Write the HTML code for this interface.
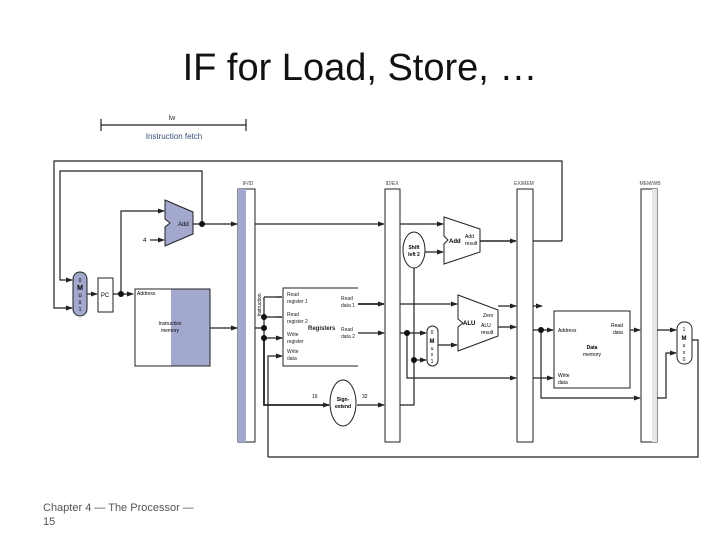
<!DOCTYPE html>
<html><head><meta charset="utf-8"><style>
html,body{margin:0;padding:0;background:#fff}
svg{display:block}
text{font-family:"Liberation Sans",sans-serif}
</style></head><body>
<svg width="720" height="540" viewBox="0 0 720 540" xmlns="http://www.w3.org/2000/svg">
<defs><marker id="a" markerUnits="userSpaceOnUse" markerWidth="7" markerHeight="6" refX="6" refY="3" orient="auto"><path d="M0,0.5 L7,3 L0,5.5z" fill="#222"/></marker></defs>
<text x="360" y="80" font-size="38" text-anchor="middle" fill="#111">IF for Load, Store, …</text>
<text x="43" y="511" font-size="11" fill="#555">Chapter 4 — The Processor —</text>
<text x="43" y="525" font-size="11" fill="#555">15</text>
<g stroke="#222" fill="none" stroke-width="1.2">
<path d="M101,119 V131 M246,119 V131 M101,125 H246"/>
</g>
<text x="172" y="120" font-size="7" fill="#333" text-anchor="middle">lw</text>
<text x="174" y="139" font-size="8" fill="#3a4a7a" text-anchor="middle">Instruction fetch</text>
<g stroke="#222" fill="none" stroke-width="1.2">
<path d="M562,241 V161 H54 V308 H72" marker-end="url(#a)"/>
<path d="M202,224 V171 H60 V280 H72" marker-end="url(#a)"/>
<path d="M533,241 H562"/>
<path d="M87,294 H97" marker-end="url(#a)"/>
<path d="M113,294 H133" marker-end="url(#a)"/>
<path d="M121,294 V211 H164" marker-end="url(#a)"/>
<path d="M150,240 H164" marker-end="url(#a)"/>
<path d="M193,224 H237" marker-end="url(#a)"/>
<path d="M210,328 H237" marker-end="url(#a)"/>
<path d="M255,224 H384" marker-end="url(#a)"/>
<path d="M255,328 H264 M264,297 V338 M264,297 H282 M264,317 H282 M264,338 H282" />
<path d="M276,297 H282 M276,317 H282 M276,338 H282" marker-end="url(#a)"/>
<path d="M268,457 V356 H282" marker-end="url(#a)"/>
<path d="M264,338 V405 H329" stroke-width="1.8" marker-end="url(#a)"/>
<path d="M357,405 H384" marker-end="url(#a)"/>
<path d="M358,304 H384" stroke-width="1.8" marker-end="url(#a)"/>
<path d="M358,333 H384" marker-end="url(#a)"/>
<path d="M268,457 H698 V340 H692"/>
<path d="M400,224 H443" marker-end="url(#a)"/>
<path d="M425,252 H443" marker-end="url(#a)"/>
<path d="M480,241 H516" stroke-width="1.6" marker-end="url(#a)"/>
<path d="M400,304 H457" marker-end="url(#a)"/>
<path d="M400,333 H426" marker-end="url(#a)"/>
<path d="M407,333 V378 H516" marker-end="url(#a)"/>
<path d="M414,268 V405 H400"/>
<path d="M414,360 H426" marker-end="url(#a)"/>
<path d="M438,345 H457" marker-end="url(#a)"/>
<path d="M498,306 H516" marker-end="url(#a)"/>
<path d="M498,327 H516" marker-end="url(#a)"/>
<path d="M533,306 H542" marker-end="url(#a)"/>
<path d="M533,330 H553" marker-end="url(#a)"/>
<path d="M541,330 V398 H640" marker-end="url(#a)"/>
<path d="M533,378 H553" marker-end="url(#a)"/>
<path d="M630,330 H640" marker-end="url(#a)"/>
<path d="M657,330 H676" marker-end="url(#a)"/>
<path d="M657,398 H666 V353 H676" marker-end="url(#a)"/>
</g>
<g fill="#111">
<circle cx="121" cy="294" r="3"/><circle cx="202" cy="224" r="3"/>
<circle cx="264" cy="317" r="3"/><circle cx="264" cy="328" r="3"/><circle cx="264" cy="338" r="3"/>
<circle cx="407" cy="333" r="3"/><circle cx="414" cy="360" r="3"/><circle cx="541" cy="330" r="3"/>
</g>
<rect x="73" y="272" width="14" height="44" rx="7" fill="#a3a8cf" stroke="#222"/>
<text x="80" y="282" font-size="5" text-anchor="middle">0</text>
<text x="80" y="290" font-size="7" font-weight="bold" text-anchor="middle">M</text>
<text x="80" y="297" font-size="6" text-anchor="middle">u</text>
<text x="80" y="304" font-size="6" text-anchor="middle">x</text>
<text x="80" y="311" font-size="5" text-anchor="middle">1</text>
<rect x="98" y="278" width="15" height="34" fill="#fff" stroke="#222"/>
<text x="105" y="297" font-size="6" text-anchor="middle">PC</text>
<path d="M165,200 L193,212 L193,234 L165,246 L165,227 L170,223 L165,219 Z" fill="#a3a8cf" stroke="#222"/>
<text x="178" y="226" font-size="6">Add</text>
<text x="143" y="242" font-size="6">4</text>
<rect x="135" y="289" width="75" height="77" fill="#fff" stroke="#222"/>
<rect x="171" y="289" width="39" height="77" fill="#a3a8cf"/>
<rect x="135" y="289" width="75" height="77" fill="none" stroke="#222"/>
<text x="137" y="295" font-size="5">Address</text>
<text x="170" y="325" font-size="5" text-anchor="middle">Instruction</text>
<text x="170" y="332" font-size="5" text-anchor="middle">memory</text>
<rect x="238" y="189" width="17" height="253" fill="#fff" stroke="#222"/>
<rect x="238" y="189" width="8" height="253" fill="#a3a8cf"/>
<text x="248" y="185" font-size="5" text-anchor="middle" fill="#444">IF/ID</text>
<text x="261" y="305" font-size="5" transform="rotate(-90 261 305)" text-anchor="middle">Instruction</text>
<path d="M358,288 H283 V366 H358" fill="#fff" stroke="#222"/>
<g font-size="5" fill="#222">
<text x="287" y="296">Read</text><text x="287" y="303">register 1</text>
<text x="287" y="316">Read</text><text x="287" y="323">register 2</text>
<text x="287" y="336">Write</text><text x="287" y="343">register</text>
<text x="287" y="353">Write</text><text x="287" y="360">data</text>
<text x="341" y="300">Read</text><text x="341" y="307">data 1</text>
<text x="341" y="331">Read</text><text x="341" y="338">data 2</text>
<text x="308" y="330" font-weight="bold" font-size="6">Registers</text>
</g>
<ellipse cx="343" cy="403" rx="13" ry="23" fill="#fff" stroke="#222"/>
<text x="343" y="401" font-size="5" text-anchor="middle" font-weight="bold">Sign-</text>
<text x="343" y="408" font-size="5" text-anchor="middle" font-weight="bold">extend</text>
<text x="312" y="398" font-size="5">16</text><text x="362" y="398" font-size="5">32</text>
<rect x="385" y="189" width="15" height="253" fill="#fff" stroke="#222"/>
<text x="392" y="185" font-size="5" text-anchor="middle" fill="#444">ID/EX</text>
<rect x="517" y="189" width="16" height="253" fill="#fff" stroke="#222"/>
<text x="524" y="185" font-size="5" text-anchor="middle" fill="#444">EX/MEM</text>
<rect x="641" y="189" width="16" height="253" fill="#fff" stroke="#222"/>
<rect x="652" y="189" width="5" height="253" fill="#e6e6e6"/>
<text x="650" y="185" font-size="5" text-anchor="middle" fill="#444">MEM/WB</text>
<ellipse cx="414" cy="250" rx="11" ry="18" fill="#fff" stroke="#222"/>
<text x="414" y="249" font-size="5" text-anchor="middle" font-weight="bold">Shift</text>
<text x="414" y="256" font-size="5" text-anchor="middle" font-weight="bold">left 2</text>
<path d="M444,217 L480,229 L480,252 L444,264 L444,244 L448,240 L444,236 Z" fill="#fff" stroke="#222"/>
<text x="449" y="243" font-size="6" font-weight="bold">Add</text>
<text x="465" y="238" font-size="5">Add</text><text x="465" y="245" font-size="5">result</text>
<path d="M458,295 L498,310 L498,336 L458,351 L458,327 L463,323 L458,319 Z" fill="#fff" stroke="#222"/>
<text x="463" y="325" font-size="6" font-weight="bold">ALU</text>
<text x="483" y="317" font-size="5">Zero</text>
<text x="481" y="327" font-size="5">ALU</text><text x="481" y="334" font-size="5">result</text>
<rect x="427" y="326" width="11" height="40" rx="5.5" fill="#fff" stroke="#222"/>
<text x="432" y="334" font-size="5" text-anchor="middle">0</text>
<text x="432" y="343" font-size="6" text-anchor="middle" font-weight="bold">M</text>
<text x="432" y="350" font-size="5" text-anchor="middle">u</text>
<text x="432" y="356" font-size="5" text-anchor="middle">x</text>
<text x="432" y="363" font-size="5" text-anchor="middle">1</text>
<rect x="554" y="311" width="76" height="77" fill="#fff" stroke="#222"/>
<g font-size="5"><text x="558" y="332">Address</text><text x="611" y="327">Read</text><text x="613" y="334">data</text>
<text x="592" y="349" text-anchor="middle" font-weight="bold">Data</text><text x="592" y="356" text-anchor="middle">memory</text>
<text x="558" y="377">Write</text><text x="558" y="384">data</text></g>
<rect x="677" y="322" width="15" height="42" rx="7" fill="#fff" stroke="#222"/>
<text x="684" y="331" font-size="5" text-anchor="middle">1</text>
<text x="684" y="340" font-size="6" text-anchor="middle" font-weight="bold">M</text>
<text x="684" y="347" font-size="5" text-anchor="middle">u</text>
<text x="684" y="354" font-size="5" text-anchor="middle">x</text>
<text x="684" y="361" font-size="5" text-anchor="middle">0</text>
</svg>
</body></html>
